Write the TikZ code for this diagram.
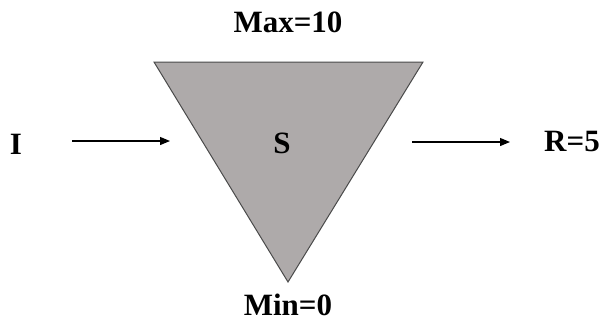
\documentclass[tikz,border=0pt]{standalone}
\usepackage{fontspec}
\setmainfont{Liberation Serif}
\usetikzlibrary{arrows.meta}
\definecolor{tank}{HTML}{AEAAAA}
\definecolor{edge}{HTML}{4A4A4A}
\tikzset{
  lbl/.style={font=\fontsize{15.5}{18}\selectfont\bfseries, inner sep=0pt},
  flow/.style={-{Triangle[length=5pt,width=4pt]}, line width=0.6pt}
}
\begin{document}
\begin{tikzpicture}[x=0.5pt,y=-0.5pt]
  \useasboundingbox (0,0) rectangle (605,322);

  % Tank
  \draw[edge,fill=tank,line width=0.5pt] (154,62) coordinate (tl) -- (423,62) coordinate (tr) -- (288,282) coordinate (bot) -- cycle;

  % Labels
  \node[lbl] (max) at (288,22) {Max=10};
  \node[lbl] (min) at (288,305) {Min=0};
  \node[lbl] (s) at (282,143) {S};
  \node[lbl] (in) at (16,144) {I};
  \node[lbl] (out) at (572,141) {R=5};

  % Flows
  \coordinate (inA) at (72,141);
  \coordinate (inB) at (170,141);
  \coordinate (outA) at (412,142);
  \coordinate (outB) at (510,142);
  \draw[flow] (inA) -- (inB);
  \draw[flow] (outA) -- (outB);
\end{tikzpicture}
\end{document}
